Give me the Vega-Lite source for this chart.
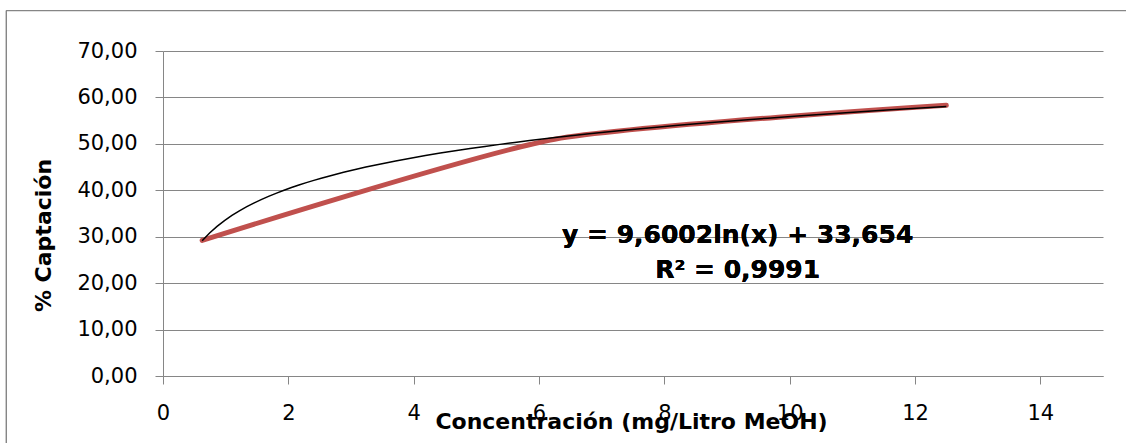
{
  "$schema": "https://vega.github.io/schema/vega-lite/v6.json",
  "autosize": {"type": "none"},
  "width": 940,
  "height": 325,
  "padding": {"left": 163, "top": 51, "right": 23, "bottom": 67},
  "background": "white",
  "config": {"view": {"stroke": null}},
  "data": {"values": [
    {"x": 0.625, "y": 29.2},
    {"x": 6.25, "y": 51.0},
    {"x": 12.5, "y": 58.3}
  ]},
  "layer": [
    {
      "mark": {"type": "rect", "fill": null, "stroke": "#868686", "strokeWidth": 1, "clip": false},
      "encoding": {
        "x": {"datum": -2.5},
        "x2": {"datum": 17.5},
        "y": {"datum": 78.7},
        "y2": {"datum": -25}
      }
    },
    {
      "mark": {"type": "line", "color": "#C0504D", "strokeWidth": 5, "strokeCap": "round", "interpolate": "cardinal", "tension": 0.4},
      "encoding": {
        "x": {
          "field": "x", "type": "quantitative",
          "scale": {"domain": [0, 15], "nice": false, "zero": false},
          "axis": {
            "values": [0, 2, 4, 6, 8, 10, 12, 14],
            "format": "d",
            "grid": false,
            "domainColor": "#868686",
            "tickColor": "#868686",
            "tickSize": 8,
            "labelPadding": 18,
            "labelFont": "DejaVu Sans",
            "labelFontSize": 21,
            "labelColor": "black",
            "labelFlush": false,
            "labelOverlap": false,
            "title": "Concentración (mg/Litro MeOH)",
            "titleFont": "DejaVu Sans",
            "titleFontSize": 22,
            "titleFontWeight": "bold",
            "titleColor": "black",
            "titleBaseline": "alphabetic",
            "titleX": 468,
            "titleY": 52
          }
        },
        "y": {
          "field": "y", "type": "quantitative",
          "scale": {"domain": [0, 70], "nice": false},
          "axis": {
            "values": [0, 10, 20, 30, 40, 50, 60, 70],
            "labelExpr": "replace(format(datum.value, '.2f'), '.', ',')",
            "grid": true,
            "gridColor": "#868686",
            "gridWidth": 1,
            "domainColor": "#868686",
            "tickColor": "#868686",
            "tickSize": 8,
            "labelPadding": 18,
            "labelFont": "DejaVu Sans",
            "labelFontSize": 21,
            "labelColor": "black",
            "labelFlush": false,
            "labelOverlap": false,
            "title": "% Captación",
            "titleFont": "DejaVu Sans",
            "titleFontSize": 22,
            "titleFontWeight": "bold",
            "titleColor": "black",
            "titleAngle": -90,
            "titleAlign": "center",
            "titleBaseline": "middle",
            "titleX": -120,
            "titleY": 184
          }
        }
      }
    },
    {
      "transform": [
        {"regression": "y", "on": "x", "method": "log", "extent": [0.625, 12.5]}
      ],
      "mark": {"type": "line", "color": "black", "strokeWidth": 1.5},
      "encoding": {
        "x": {"field": "x", "type": "quantitative"},
        "y": {"field": "y", "type": "quantitative"}
      }
    },
    {
      "mark": {"type": "text", "font": "DejaVu Sans", "fontSize": 25, "fontWeight": "bold", "align": "center", "baseline": "alphabetic", "lineHeight": 35, "color": "black"},
      "encoding": {
        "x": {"datum": 9.17},
        "y": {"datum": 28.6},
        "text": {"value": ["y = 9,6002ln(x) + 33,654", "R² = 0,9991"]}
      }
    }
  ]
}
